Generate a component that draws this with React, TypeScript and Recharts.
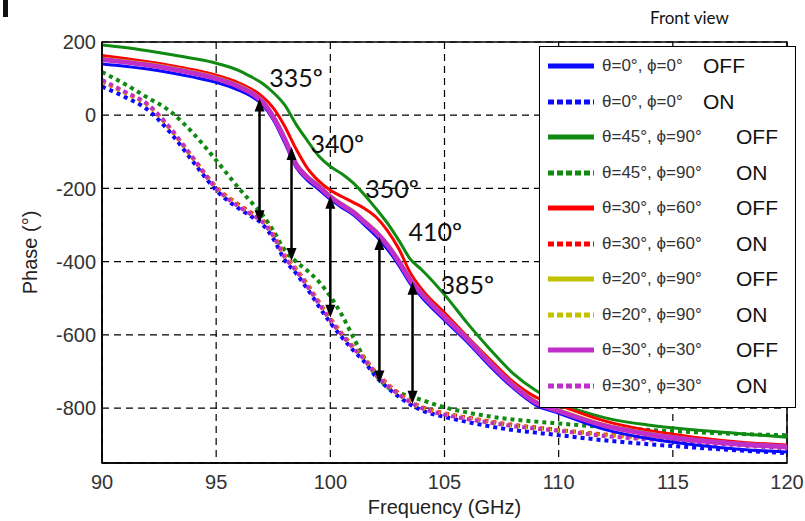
import React from 'react';
import {
    LineChart,
    Line,
    XAxis,
    YAxis,
    CartesianGrid,
    ReferenceLine,
    ReferenceDot,
    ReferenceArea,
    Label
} from 'recharts';

// frequency samples (GHz)
const freq = [90, 91, 92, 93, 94, 95, 96, 96.5, 97, 97.5, 98, 98.5, 99, 99.5, 100, 100.5, 101, 101.5, 102, 102.5, 103, 103.5, 104, 105, 106, 107, 108, 109, 110, 112, 114, 116, 118, 120];

// phase (deg), OFF state
const blueOff = [140, 134, 126, 116, 104, 90, 68, 53, 30, -12, -75, -142, -178, -203, -230, -252, -272, -300, -330, -366, -410, -460, -497, -560, -620, -686, -745, -792, -814, -858, -884, -901, -913, -920];
const greenOff = [192, 185, 176, 166, 155, 142, 122, 106, 88, 62, 28, -25, -70, -112, -140, -160, -185, -218, -255, -295, -342, -393, -422, -490, -568, -640, -705, -752, -785, -826, -847, -860, -870, -880];
const redOff = [163, 155, 146, 136, 124, 109, 88, 73, 52, 20, -30, -92, -145, -180, -205, -222, -238, -255, -278, -315, -365, -430, -475, -540, -605, -668, -728, -770, -792, -835, -862, -880, -893, -901];
const yellowOff = [156, 149, 141, 131, 119, 104, 82, 66, 42, -1, -60, -130, -166, -191, -219, -241, -261, -288, -316, -351, -396, -446, -484, -548, -608, -674, -734, -781, -804, -845, -869, -886, -897, -904];
const magentaOff = [152, 145, 137, 127, 115, 100, 78, 62, 38, -5, -65, -135, -170, -195, -223, -245, -265, -292, -320, -355, -400, -450, -488, -552, -612, -678, -738, -785, -808, -848, -872, -888, -899, -906];

// phase (deg), ON state
const blueOn = [78, 50, 15, -48, -128, -205, -255, -275, -296, -337, -395, -432, -475, -522, -567, -606, -642, -674, -714, -744, -769, -790, -806, -824, -838, -850, -860, -867, -874, -888, -899, -908, -916, -923];
const greenOn = [118, 85, 48, 10, -50, -123, -200, -235, -270, -315, -368, -400, -425, -455, -495, -545, -606, -665, -710, -742, -758, -768, -778, -798, -812, -823, -831, -837, -842, -852, -860, -866, -871, -874];
const redOn = [92, 62, 28, -38, -118, -196, -245, -265, -285, -325, -382, -420, -462, -510, -555, -596, -632, -664, -703, -734, -760, -781, -797, -814, -826, -837, -846, -853, -860, -872, -882, -890, -898, -906];
const yellowOn = [94, 62, 28, -38, -120, -198, -248, -268, -288, -328, -385, -422, -465, -512, -558, -598, -634, -666, -706, -736, -762, -783, -799, -816, -828, -839, -848, -855, -861, -874, -884, -892, -900, -908];
const magentaOn = [96, 64, 30, -36, -118, -200, -250, -270, -290, -330, -388, -425, -468, -515, -560, -600, -636, -668, -708, -738, -763, -784, -800, -818, -830, -840, -849, -856, -862, -876, -886, -894, -902, -910];

// phase-shift arrows and their labels
const arrowFreq = [96.9, 98.3, 100.0, 102.15, 103.6];
const arrowTop = [46, -87, -220, -333, -455];
const arrowBottom = [-295, -398, -553, -733, -788];
const shiftText = ['335º', '340º', '350º', '410º', '385º'];
const shiftFreq = [98.5, 100.3, 102.7, 104.6, 106.0];
const shiftPhase = [104, -76, -199, -317, -462];

const xTicks = [90, 95, 100, 105, 110, 115, 120];
const yTicks = [-800, -600, -400, -200, 0, 200];

const angleLabels = ['θ=0°, ϕ=0°', 'θ=0°, ϕ=0°', 'θ=45°, ϕ=90°', 'θ=45°, ϕ=90°', 'θ=30°, ϕ=60°', 'θ=30°, ϕ=60°', 'θ=20°, ϕ=90°', 'θ=20°, ϕ=90°', 'θ=30°, ϕ=30°', 'θ=30°, ϕ=30°'];
const stateLabels = ['OFF', 'ON', 'OFF', 'ON', 'OFF', 'ON', 'OFF', 'ON', 'OFF', 'ON'];

const rows = freq.map((f, i) => ({
    freq: f,
    blueOff: blueOff[i],
    blueOn: blueOn[i],
    greenOff: greenOff[i],
    greenOn: greenOn[i],
    redOff: redOff[i],
    redOn: redOn[i],
    yellowOff: yellowOff[i],
    yellowOn: yellowOn[i],
    magentaOff: magentaOff[i],
    magentaOn: magentaOn[i]
}));

// legend order
const series = [
    { key: 'blueOff', color: '#0a0aff', on: false, width: 3 },
    { key: 'blueOn', color: '#0a0aff', on: true, width: 4 },
    { key: 'greenOff', color: '#118a11', on: false, width: 3 },
    { key: 'greenOn', color: '#118a11', on: true, width: 4 },
    { key: 'redOff', color: '#ff0000', on: false, width: 3 },
    { key: 'redOn', color: '#ff0000', on: true, width: 4 },
    { key: 'yellowOff', color: '#c2c200', on: false, width: 3 },
    { key: 'yellowOn', color: '#c2c200', on: true, width: 4 },
    { key: 'magentaOff', color: '#c030c8', on: false, width: 5 },
    { key: 'magentaOn', color: '#c030c8', on: true, width: 4 }
];

// ON lines underneath, OFF lines on top
const drawOrder = [...series.filter(s => s.on), ...series.filter(s => !s.on)];

const tickFont = { fill: '#333', fontSize: 20, fontFamily: '"Liberation Sans", Arial, sans-serif' };

const DoubleArrow = (props: any) => {
    const { x1, y1, x2, y2 } = props;
    const top = Math.min(y1, y2);
    const bottom = Math.max(y1, y2);
    const x = (x1 + x2) / 2;
    const h = 13;
    const w = 5;
    return (
        <g>
            <line x1={x} y1={top + h - 2} x2={x} y2={bottom - h + 2} stroke="#000" strokeWidth={2.5} />
            <polygon points={`${x},${top} ${x - w},${top + h} ${x + w},${top + h}`} fill="#000" />
            <polygon points={`${x},${bottom} ${x - w},${bottom - h} ${x + w},${bottom - h}`} fill="#000" />
        </g>
    );
};

const shiftLabel = (text: string) => (props: any) => (
    <text
        x={props.cx}
        y={props.cy}
        textAnchor="middle"
        dominantBaseline="central"
        fontSize={25}
        fontFamily="Lato, 'Open Sans', sans-serif"
        fill="#111"
    >
        {text}
    </text>
);

const PhaseLabel = (props: any) => {
    const vb = props.viewBox;
    const cx = vb.x + 30;
    const cy = vb.y + vb.height / 2;
    return (
        <text
            x={cx}
            y={cy}
            transform={`rotate(-90 ${cx} ${cy})`}
            textAnchor="middle"
            dominantBaseline="central"
            fontSize={20}
            fontFamily='"Liberation Sans", Arial, sans-serif'
            fill="#222"
        >
            Phase (°)
        </text>
    );
};

const LegendBox = () => (
    <div
        style={{
            position: 'absolute',
            left: 539,
            top: 46,
            width: 257,
            height: 362,
            boxSizing: 'border-box',
            border: '1.5px solid #000',
            background: '#fff'
        }}
    >
        {series.map((s, i) => (
            <div key={s.key} style={{ position: 'absolute', left: 0, top: 19 + i * 35.5, width: '100%', height: 0 }}>
                <svg width={50} height={10} style={{ position: 'absolute', left: 8, top: -5 }}>
                    <line
                        x1={0}
                        y1={5}
                        x2={46}
                        y2={5}
                        stroke={s.color}
                        strokeWidth={5}
                        strokeDasharray={s.on ? '6 3' : undefined}
                    />
                </svg>
                <span
                    style={{
                        position: 'absolute',
                        left: 62,
                        top: -10,
                        lineHeight: '20px',
                        fontSize: 17,
                        color: '#333',
                        fontFamily: '"Liberation Sans", Arial, sans-serif',
                        whiteSpace: 'nowrap'
                    }}
                >
                    {angleLabels[i]}
                </span>
                <span
                    style={{
                        position: 'absolute',
                        left: i < 2 ? 163 : 196,
                        top: -13,
                        lineHeight: '26px',
                        fontSize: 21,
                        color: '#111',
                        fontFamily: '"Liberation Sans", Arial, sans-serif',
                        whiteSpace: 'nowrap'
                    }}
                >
                    {stateLabels[i]}
                </span>
            </div>
        ))}
    </div>
);

const App: React.FC = () => {
    return (
        <div style={{ position: 'absolute', left: 0, top: 0, width: 805, height: 521, background: '#fff', overflow: 'hidden' }}>
            <div style={{ position: 'absolute', left: 3, top: 0, width: 5, height: 17, background: '#111' }} />
            <div
                style={{
                    position: 'absolute',
                    left: 650,
                    top: 7,
                    fontSize: 17,
                    lineHeight: '22px',
                    fontFamily: 'Lato, "Open Sans", sans-serif',
                    color: '#111'
                }}
            >
                Front view
            </div>
            <LineChart width={805} height={521} data={rows} margin={{ top: 42, right: 18, bottom: 0, left: 0 }}>
                <CartesianGrid stroke="#000" strokeDasharray="7 5" strokeWidth={1.2} />
                <XAxis
                    dataKey="freq"
                    type="number"
                    domain={[90, 120]}
                    ticks={xTicks}
                    interval={0}
                    allowDataOverflow
                    height={58}
                    tickSize={0}
                    tickMargin={12}
                    tickLine={false}
                    axisLine={{ stroke: '#000', strokeWidth: 1.5 }}
                    tick={tickFont}
                >
                    <Label
                        value="Frequency (GHz)"
                        position="insideBottom"
                        offset={7}
                        style={{ fill: '#222', fontSize: 20, fontFamily: '"Liberation Sans", Arial, sans-serif' }}
                    />
                </XAxis>
                <YAxis
                    type="number"
                    domain={[-950, 200]}
                    ticks={yTicks}
                    interval={0}
                    allowDataOverflow
                    width={102}
                    tickSize={0}
                    tickMargin={6}
                    tickLine={false}
                    axisLine={{ stroke: '#000', strokeWidth: 1.5 }}
                    tick={tickFont}
                >
                    <Label content={PhaseLabel} />
                </YAxis>
                <ReferenceArea x1={90} x2={120} y1={-950} y2={200} fill="none" stroke="#000" strokeWidth={1.5} />
                {drawOrder.map(s => (
                    <Line
                        key={s.key}
                        dataKey={s.key}
                        type="monotone"
                        stroke={s.color}
                        strokeWidth={s.width}
                        strokeDasharray={s.on ? '4 4' : undefined}
                        dot={false}
                        activeDot={false}
                        isAnimationActive={false}
                    />
                ))}
                {arrowFreq.map((f, i) => (
                    <ReferenceLine
                        key={'arrow' + i}
                        segment={[{ x: f, y: arrowTop[i] }, { x: f, y: arrowBottom[i] }]}
                        stroke="#000"
                        shape={DoubleArrow}
                    />
                ))}
                {shiftFreq.map((f, i) => (
                    <ReferenceDot key={'lbl' + i} x={f} y={shiftPhase[i]} r={0} shape={shiftLabel(shiftText[i])} />
                ))}
            </LineChart>
            <LegendBox />
        </div>
    );
};

export default App;
